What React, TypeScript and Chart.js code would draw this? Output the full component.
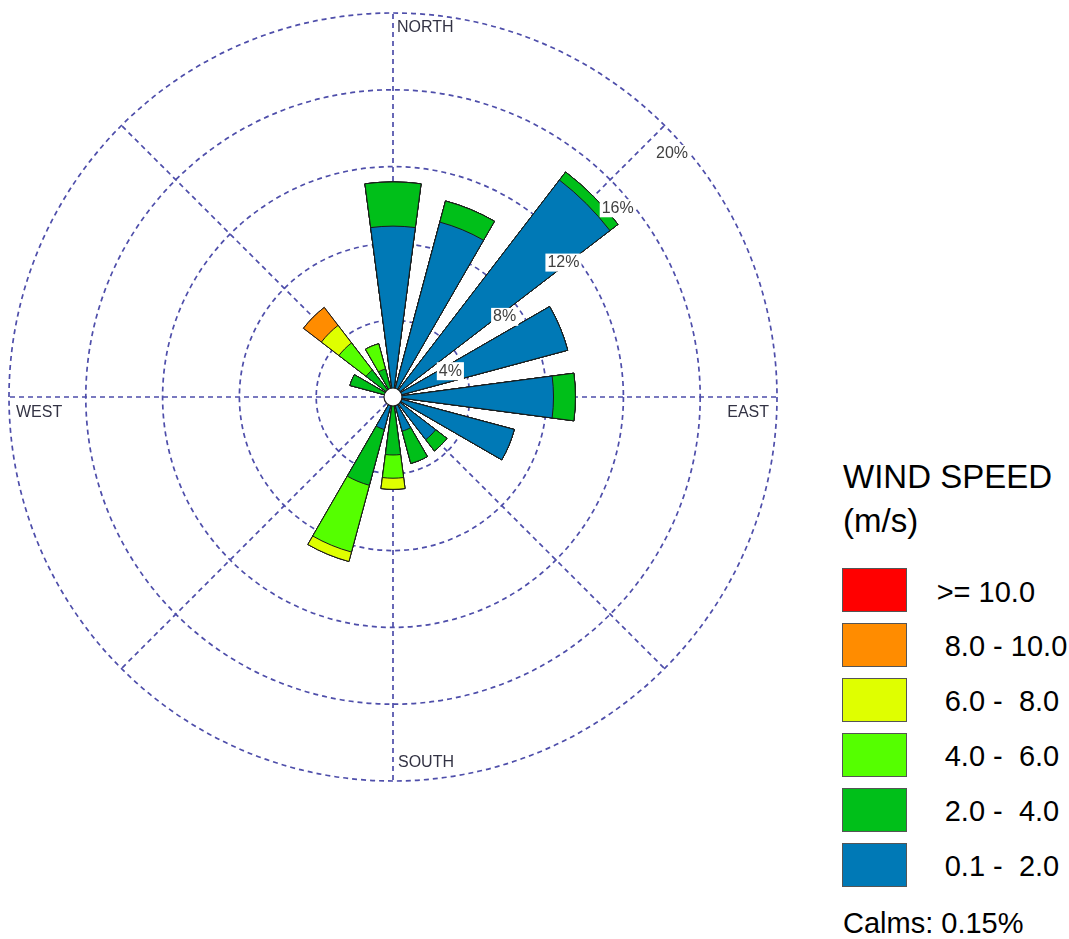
import React, { useEffect, useRef } from 'react';
import { Chart, registerables } from 'chart.js';

Chart.register(...registerables);

// ---- data ----
const DIRECTIONS = ['N', 'NNE', 'NE', 'ENE', 'E', 'ESE', 'SE', 'SSE', 'S', 'SSW', 'SW', 'WSW', 'W', 'WNW', 'NW', 'NNW'];

// frequency (%) per direction for each wind-speed class (m/s)
const FREQ_0_1_TO_2 = [8.9, 9.43, 14.24, 9.42, 8.36, 6.54, 2.8, 1.84, 0.3, 1.75, 0, 0, 0, 0.3, 0.3, 0.3];
const FREQ_2_TO_4 = [2.3, 1.14, 0.53, 0, 1.14, 0, 0.74, 1.74, 2.72, 3.01, 0, 0, 0, 2.02, 1.47, 1.21];
const FREQ_4_TO_6 = [0, 0, 0, 0, 0, 0, 0, 0, 1.21, 3.6, 0, 0, 0, 0, 1.78, 1.36];
const FREQ_6_TO_8 = [0, 0, 0, 0, 0, 0, 0, 0, 0.58, 0.51, 0, 0, 0, 0, 1.15, 0];
const FREQ_8_TO_10 = [0, 0, 0, 0, 0, 0, 0, 0, 0, 0, 0, 0, 0, 0, 1.18, 0];
const FREQ_10_UP = [0, 0, 0, 0, 0, 0, 0, 0, 0, 0, 0, 0, 0, 0, 0, 0];

// legend (top to bottom)
const SPEED_CLASS_LABELS = ['>= 10.0', ' 8.0 - 10.0', ' 6.0 -  8.0', ' 4.0 -  6.0', ' 2.0 -  4.0', ' 0.1 -  2.0'];
const RING_TICKS = [4, 8, 12, 16, 20];
const CALMS = '0.15%';

// ---- styles ----
const CLASS_COLORS_TOP_DOWN = ['#ff0000', '#ff8c00', '#dfff00', '#55ff00', '#00bf19', '#0079b6'];
const GRID_COLOR = '#4e4eaa';
const FONT = '"Liberation Sans", Arial, sans-serif';
const BAR_ANGLE = 15;
const GAP_ANGLE = 7.5;

const CLASSES_LOW_HIGH = [FREQ_0_1_TO_2, FREQ_2_TO_4, FREQ_4_TO_6, FREQ_6_TO_8, FREQ_8_TO_10, FREQ_10_UP];
const COLORS_LOW_HIGH = [...CLASS_COLORS_TOP_DOWN].reverse();

function cumulative(): number[][] {
  const out: number[][] = [];
  let run = DIRECTIONS.map(() => 0);
  CLASSES_LOW_HIGH.forEach((arr) => {
    run = run.map((v, i) => +(v + arr[i]).toFixed(3));
    out.push(run);
  });
  return out;
}

const overlayPlugin = {
  id: 'roseOverlay',
  afterDatasetsDraw(chart: any) {
    const scale = chart.scales.r;
    const ctx = chart.ctx as CanvasRenderingContext2D;
    const cx = scale.xCenter;
    const cy = scale.yCenter;
    const R = scale.getDistanceFromCenterForValue(scale.max);
    ctx.save();
    // calms circle
    ctx.beginPath();
    ctx.arc(cx, cy, 9, 0, Math.PI * 2);
    ctx.fillStyle = '#ffffff';
    ctx.fill();
    ctx.lineWidth = 1.2;
    ctx.strokeStyle = '#1a1a1a';
    ctx.stroke();

    // ring labels
    ctx.font = `16px ${FONT}`;
    ctx.textBaseline = 'middle';
    ctx.textAlign = 'left';
    const a = Math.PI / 4;
    RING_TICKS.forEach((v) => {
      const r = scale.getDistanceFromCenterForValue(v);
      const label = `${v}%`;
      const x = cx + r * Math.sin(a) - 8.5;
      const y = cy - r * Math.cos(a) + 28.5;
      const w = ctx.measureText(label).width;
      ctx.fillStyle = '#ffffff';
      ctx.fillRect(x - 2, y - 9, w + 4, 18);
      ctx.fillStyle = '#404040';
      ctx.fillText(label, x, y);
    });

    // compass labels
    ctx.font = `16px ${FONT}`;
    ctx.fillStyle = '#333344';
    ctx.textAlign = 'left';
    ctx.fillText('NORTH', cx + 4, cy - R + 14.3);
    ctx.textAlign = 'right';
    ctx.fillText('EAST', cx + R - 8, cy + 15.5);
    ctx.textAlign = 'left';
    ctx.fillText('SOUTH', cx + 5, cy + R - 18);
    ctx.fillText('WEST', cx - R + 7, cy + 16);
    ctx.restore();
  },
};

export default function App() {
  const ref = useRef<HTMLCanvasElement>(null);

  useEffect(() => {
    const cum = cumulative();
    const labels = Array.from({ length: 48 }, (_, i) => (i % 3 === 1 ? DIRECTIONS[(i - 1) / 3] : ''));
    const datasets = cum.map((arr, k) => ({
      label: SPEED_CLASS_LABELS[SPEED_CLASS_LABELS.length - 1 - k],
      data: arr.flatMap((v) => [v, 0]),
      backgroundColor: COLORS_LOW_HIGH[k],
      borderColor: '#1a1a1a',
      borderWidth: (c: any) => (c.dataIndex % 2 === 0 ? 1 : 0),
      angle: (c: any) => (c.dataIndex % 2 === 0 ? BAR_ANGLE : GAP_ANGLE),
    }));

    const chart = new Chart(ref.current as HTMLCanvasElement, {
      type: 'polarArea',
      data: { labels, datasets } as any,
      options: {
        responsive: false,
        maintainAspectRatio: false,
        animation: false,
        events: [],
        layout: { padding: { left: 9, right: 9, top: 13, bottom: 13 } },
        plugins: {
          legend: { display: false },
          tooltip: { enabled: false },
        },
        scales: {
          r: {
            type: 'radialLinear',
            startAngle: -GAP_ANGLE,
            min: 0,
            max: 20,
            ticks: { display: false, stepSize: 4 },
            pointLabels: { display: false },
            grid: { circular: true, color: GRID_COLOR, lineWidth: 1.7 },
            border: { dash: [5, 4] },
            angleLines: {
              display: true,
              color: GRID_COLOR,
              lineWidth: (c: any) => ((c.index - 1) % 6 === 0 ? 1.7 : 0),
              borderDash: [5, 4],
            },
          },
        } as any,
      },
      plugins: [overlayPlugin],
    } as any);
    return () => chart.destroy();
  }, []);

  return (
    <div
      style={{
        position: 'absolute',
        left: 0,
        top: 0,
        width: 1069,
        height: 939,
        background: '#ffffff',
        fontFamily: FONT,
        color: '#000',
        overflow: 'hidden',
      }}
    >
      <canvas ref={ref} width={786} height={794} style={{ position: 'absolute', left: 0, top: 0 }} />
      <div style={{ position: 'absolute', left: 843, top: 455, fontSize: 33, lineHeight: '44px', whiteSpace: 'nowrap' }}>
        WIND SPEED
        <br />
        (m/s)
      </div>
      {SPEED_CLASS_LABELS.map((label, i) => {
        const top = 568 + i * 54.9;
        return (
          <React.Fragment key={label}>
            <div
              style={{
                position: 'absolute',
                left: 842,
                top,
                width: 63,
                height: 42,
                background: CLASS_COLORS_TOP_DOWN[i],
                border: '1px solid #555',
              }}
            />
            <div
              style={{
                position: 'absolute',
                left: 936.7,
                top: top + 1.5,
                height: 44,
                lineHeight: '44px',
                fontSize: 29,
                whiteSpace: 'pre',
              }}
            >
              {label}
            </div>
          </React.Fragment>
        );
      })}
      <div style={{ position: 'absolute', left: 843, top: 904.5, fontSize: 29, lineHeight: '36px', whiteSpace: 'nowrap' }}>
        Calms: {CALMS}
      </div>
    </div>
  );
}
